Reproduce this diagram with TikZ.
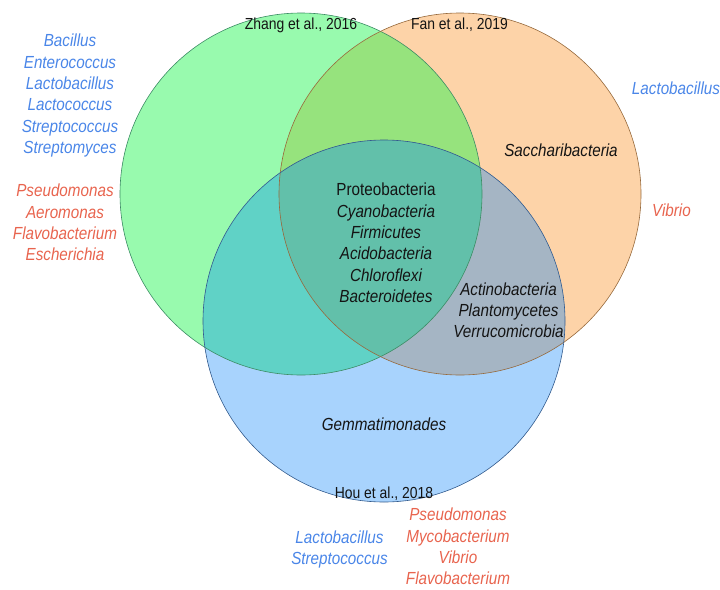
\documentclass[tikz,border=0pt]{standalone}
\usepackage{fontspec}
\setmainfont{Liberation Sans}[FakeStretch=0.87]
\definecolor{gOnly}{RGB}{152,250,174}
\definecolor{oOnly}{RGB}{253,211,168}
\definecolor{bOnly}{RGB}{168,211,253}
\definecolor{gO}{RGB}{150,227,125}
\definecolor{gB}{RGB}{96,210,198}
\definecolor{oB}{RGB}{165,181,196}
\definecolor{gOB}{RGB}{98,192,170}
\definecolor{gLine}{RGB}{60,140,100}
\definecolor{oLine}{RGB}{150,105,60}
\definecolor{bLine}{RGB}{50,90,140}
\definecolor{ink}{RGB}{20,20,20}
\definecolor{posBlue}{RGB}{74,134,232}
\definecolor{negRed}{RGB}{232,100,78}
\begin{document}
\begin{tikzpicture}[x=1pt,y=-1pt,
  tx/.style={inner sep=0pt, anchor=base, font=\fontsize{17.5}{20}\selectfont\itshape, text=ink},
  up/.style={tx, font=\fontsize{17.5}{20}\selectfont},
  auth/.style={inner sep=0pt, anchor=base, font=\fontsize{16}{19}\selectfont, text=ink},
  gpos/.style={tx, text=posBlue},
  gneg/.style={tx, text=negRed}]
\useasboundingbox (0,0) rectangle (720,589);
% circle centres and common radius
\coordinate (G) at (301,194);
\coordinate (O) at (460,194);
\coordinate (B) at (384,321);
\def\R{181}
% single-set fills
\fill[gOnly] (G) circle[radius=\R];
\fill[oOnly] (O) circle[radius=\R];
\fill[bOnly] (B) circle[radius=\R];
% pairwise and triple overlaps
\begin{scope}
  \clip (G) circle[radius=\R];
  \fill[gO] (O) circle[radius=\R];
  \fill[gB] (B) circle[radius=\R];
\end{scope}
\begin{scope}
  \clip (O) circle[radius=\R];
  \fill[oB] (B) circle[radius=\R];
  \clip (G) circle[radius=\R];
  \fill[gOB] (B) circle[radius=\R];
\end{scope}
% outlines
\draw[gLine, line width=0.6pt] (G) circle[radius=\R];
\draw[oLine, line width=0.6pt] (O) circle[radius=\R];
\draw[bLine, line width=0.6pt] (B) circle[radius=\R];

% set titles
\node[auth] (zhang) at (301,29.5) {Zhang et al., 2016};
\node[auth] (fan) at (459.5,29.5) {Fan et al., 2019};
\node[auth] (hou) at (384,498) {Hou et al., 2018};

% shared by all three
\node[up] (c1) at (386,195.7) {Proteobacteria};
\node[tx] (c2) at (386,217) {Cyanobacteria};
\node[tx] (c3) at (386,238.4) {Firmicutes};
\node[tx] (c4) at (386,259.8) {Acidobacteria};
\node[tx] (c5) at (386,281.2) {Chloroflexi};
\node[tx] (c6) at (386,302.6) {Bacteroidetes};

% Fan and Hou
\node[tx] (fh1) at (508.5,295) {Actinobacteria};
\node[tx] (fh2) at (508.5,316.4) {Plantomycetes};
\node[tx] (fh3) at (508.5,337.8) {Verrucomicrobia};

\node[tx] (fanonly) at (561,156.7) {Saccharibacteria};
\node[tx] (houonly) at (384,430) {Gemmatimonades};

% genera beside Zhang et al.
\node[gpos] (zp1) at (70,46.7) {Bacillus};
\node[gpos] (zp2) at (70,68.1) {Enterococcus};
\node[gpos] (zp3) at (70,89.5) {Lactobacillus};
\node[gpos] (zp4) at (70,110.9) {Lactococcus};
\node[gpos] (zp5) at (70,132.3) {Streptococcus};
\node[gpos] (zp6) at (70,153.7) {Streptomyces};
\node[gneg] (zn1) at (65,196.7) {Pseudomonas};
\node[gneg] (zn2) at (65,218.1) {Aeromonas};
\node[gneg] (zn3) at (65,239.5) {Flavobacterium};
\node[gneg] (zn4) at (65,260.9) {Escherichia};

% genera beside Fan et al.
\node[gpos] (fp1) at (676,94) {Lactobacillus};
\node[gneg] (fn1) at (671.5,216.7) {Vibrio};

% genera beside Hou et al.
\node[gpos] (hp1) at (339.5,543.3) {Lactobacillus};
\node[gpos] (hp2) at (339.5,564.7) {Streptococcus};
\node[gneg] (hn1) at (458,520.7) {Pseudomonas};
\node[gneg] (hn2) at (458,542.1) {Mycobacterium};
\node[gneg] (hn3) at (458,563.5) {Vibrio};
\node[gneg] (hn4) at (458,584.9) {Flavobacterium};
\end{tikzpicture}
\end{document}
